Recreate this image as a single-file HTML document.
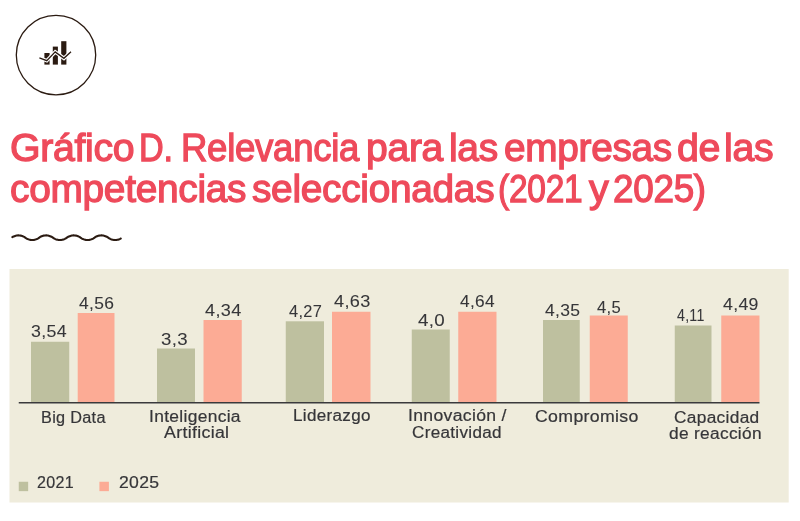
<!DOCTYPE html>
<html lang="es">
<head>
<meta charset="utf-8">
<title>Gráfico D. Relevancia para las empresas de las competencias seleccionadas (2021 y 2025)</title>
<style>
html,body{margin:0;padding:0;background:#fff;}
body{width:800px;height:521px;position:relative;overflow:hidden;font-family:"Liberation Sans",Arial,Helvetica,sans-serif;}
#icon{position:absolute;left:0;top:0;}
#wave{position:absolute;left:0;top:225px;}
h1{margin:0;font-weight:400;}
.t{position:absolute;margin:0;font-weight:400;color:#ee4a5b;-webkit-text-stroke:1.3px #ee4a5b;white-space:pre;transform-origin:0 0;line-height:1;display:block;}
#plot{position:absolute;left:0;top:0;}
.x{position:absolute;color:#363639;-webkit-text-stroke:0.2px #363639;white-space:pre;transform-origin:0 0;line-height:1;}
.x.v{-webkit-text-stroke-width:0.08px;}
</style>
</head>
<body>
<svg id="icon" width="110" height="110" viewBox="0 0 110 110">
  <circle cx="56" cy="55.1" r="39.7" fill="none" stroke="#2b1b12" stroke-width="1.3"/>
  <rect x="44.4" y="53" width="5.2" height="11.6" fill="#2b1b12"/>
  <rect x="52.8" y="46.6" width="5.1" height="18" fill="#2b1b12"/>
  <rect x="61.2" y="41.2" width="5.2" height="23.4" fill="#2b1b12"/>
  <polyline points="39.4,57.9 46.8,60.7 55.2,51.9 63.9,58.3 71,51.8" fill="none" stroke="#fff" stroke-width="3.6"/>
  <polyline points="39.4,57.9 46.8,60.7 55.2,51.9 63.9,58.3 71,51.8" fill="none" stroke="#2b1b12" stroke-width="1.3"/>
</svg>
<h1>
<span class="t" id="t1" style="font-size:39.5px;left:10.00px;top:128.20px;letter-spacing:-0.300px;transform:scaleX(0.9930)">Gráfico</span> 
<span class="t" id="t2" style="font-size:39.5px;left:138.93px;top:128.20px;letter-spacing:-0.300px;transform:scaleX(0.8653)">D.</span> 
<span class="t" id="t3" style="font-size:39.5px;left:180.76px;top:128.20px;letter-spacing:-0.300px;transform:scaleX(0.9255)">Relevancia</span> 
<span class="t" id="t4" style="font-size:39.5px;left:365.94px;top:128.20px;letter-spacing:-0.300px;transform:scaleX(0.9894)">para</span> 
<span class="t" id="t5" style="font-size:39.5px;left:449.17px;top:128.20px;letter-spacing:-0.300px;transform:scaleX(0.9862)">las</span> 
<span class="t" id="t6" style="font-size:39.5px;left:503.64px;top:128.20px;letter-spacing:-0.300px;transform:scaleX(0.9817)">empresas</span> 
<span class="t" id="t7" style="font-size:39.5px;left:676.83px;top:128.20px;letter-spacing:-0.300px;transform:scaleX(0.9959)">de</span> 
<span class="t" id="t8" style="font-size:39.5px;left:724.17px;top:128.20px;letter-spacing:-0.300px;transform:scaleX(0.9930)">las</span> 
<span class="t" id="t9" style="font-size:39.5px;left:10.42px;top:168.80px;letter-spacing:-0.300px;transform:scaleX(0.9836)">competencias</span> 
<span class="t" id="t10" style="font-size:39.5px;left:252.12px;top:168.80px;letter-spacing:-0.300px;transform:scaleX(0.9831)">seleccionadas</span> 
<span class="t" id="t11" style="font-size:39.5px;left:498.45px;top:168.80px;letter-spacing:-0.300px;transform:scaleX(0.8477)">(2021</span> 
<span class="t" id="t12" style="font-size:39.5px;left:588.90px;top:168.80px;letter-spacing:-0.300px;transform:scaleX(1.0000)">y</span> 
<span class="t" id="t13" style="font-size:39.5px;left:612.66px;top:168.80px;letter-spacing:-0.300px;transform:scaleX(0.9328)">2025)</span> 
</h1>
<svg id="wave" width="140" height="25" viewBox="0 225 140 25"><path d="M12.3 237.11L13.0 236.74L13.7 236.42L14.4 236.15L15.1 235.91L15.8 235.72L16.5 235.57L17.2 235.47L17.9 235.41L18.6 235.40L19.3 235.44L20.0 235.52L20.7 235.65L21.4 235.82L22.1 236.03L22.8 236.29L23.5 236.59L24.2 236.93L24.9 237.35L25.6 237.95L26.3 238.38L27.0 238.74L27.7 239.05L28.4 239.32L29.1 239.54L29.8 239.72L30.5 239.86L31.2 239.95L31.9 239.99L32.6 239.99L33.3 239.95L34.0 239.85L34.7 239.71L35.4 239.53L36.1 239.31L36.8 239.04L37.5 238.73L38.2 238.37L38.9 237.93L39.6 237.33L40.3 236.92L41.0 236.58L41.7 236.28L42.4 236.02L43.1 235.81L43.8 235.64L44.5 235.52L45.2 235.44L45.9 235.40L46.6 235.41L47.3 235.47L48.0 235.58L48.7 235.73L49.4 235.92L50.1 236.16L50.8 236.43L51.5 236.76L52.2 237.13L52.9 237.61L53.6 238.18L54.3 238.57L55.0 238.90L55.7 239.19L56.4 239.43L57.1 239.64L57.8 239.79L58.5 239.91L59.2 239.98L59.9 240.00L60.6 239.98L61.3 239.91L62.0 239.79L62.7 239.63L63.4 239.43L64.1 239.18L64.8 238.89L65.5 238.56L66.2 238.17L66.9 237.59L67.6 237.11L68.3 236.74L69.0 236.42L69.7 236.15L70.4 235.91L71.1 235.72L71.8 235.57L72.5 235.47L73.2 235.41L73.9 235.40L74.6 235.44L75.3 235.52L76.0 235.65L76.7 235.82L77.4 236.03L78.1 236.29L78.8 236.59L79.5 236.93L80.2 237.35L80.9 237.95L81.6 238.38L82.3 238.74L83.0 239.05L83.7 239.32L84.4 239.54L85.1 239.72L85.8 239.86L86.5 239.95L87.2 239.99L87.9 239.99L88.6 239.95L89.3 239.85L90.0 239.71L90.7 239.53L91.4 239.31L92.1 239.04L92.8 238.73L93.5 238.37L94.2 237.93L94.9 237.33L95.6 236.92L96.3 236.58L97.0 236.28L97.7 236.02L98.4 235.81L99.1 235.64L99.8 235.52L100.5 235.44L101.2 235.40L101.9 235.41L102.6 235.47L103.3 235.58L104.0 235.73L104.7 235.92L105.4 236.16L106.1 236.43L106.8 236.76L107.5 237.13L108.2 237.61L108.9 238.18L109.6 238.57L110.3 238.90L111.0 239.19L111.7 239.43L112.4 239.64L113.1 239.79L113.8 239.91L114.5 239.98L115.2 240.00L115.9 239.98L116.6 239.91L117.3 239.79L118.0 239.63L118.7 239.43L119.4 239.18L120.1 238.89L120.8 238.56" fill="none" stroke="#2b1b12" stroke-width="2.1" stroke-linecap="round"/></svg>
<svg id="plot" width="800" height="521" viewBox="0 0 800 521">
<rect x="9.5" y="269" width="779.2" height="233.5" fill="#efecdc"/>
<rect x="31" y="341.75" width="38.25" height="60.25" fill="#bec09f"/>
<rect x="77.7" y="313" width="36.8" height="89" fill="#fcab95"/>
<rect x="157" y="348.5" width="38" height="53.5" fill="#bec09f"/>
<rect x="203.5" y="320" width="38.25" height="82" fill="#fcab95"/>
<rect x="285.75" y="321.3" width="38.25" height="80.7" fill="#bec09f"/>
<rect x="332" y="311.75" width="38.5" height="90.25" fill="#fcab95"/>
<rect x="411.75" y="329.5" width="38" height="72.5" fill="#bec09f"/>
<rect x="458.25" y="311.75" width="38.25" height="90.25" fill="#fcab95"/>
<rect x="543" y="320" width="36.75" height="82" fill="#bec09f"/>
<rect x="589.75" y="315.5" width="38" height="86.5" fill="#fcab95"/>
<rect x="674.75" y="325.5" width="36.75" height="76.5" fill="#bec09f"/>
<rect x="721.25" y="315.5" width="38.25" height="86.5" fill="#fcab95"/>
<rect x="18.75" y="402" width="740.75" height="1.5" fill="#3a3a3c"/>
<rect x="18.75" y="481.75" width="9.4" height="9.4" fill="#bec09f"/>
<rect x="99.4" y="481.75" width="9.5" height="9.4" fill="#fcab95"/>
</svg>
<div class="x v" id="v1" style="font-size:16px;left:31.24px;top:324.31px;letter-spacing:0.300px;transform:scaleX(1.1090)">3,54</div>
<div class="x v" id="v2" style="font-size:16px;left:78.84px;top:295.91px;letter-spacing:0.300px;transform:scaleX(1.0869)">4,56</div>
<div class="x v" id="v3" style="font-size:16px;left:161.15px;top:331.61px;letter-spacing:0.300px;transform:scaleX(1.1630)">3,3</div>
<div class="x v" id="v4" style="font-size:16px;left:204.85px;top:302.81px;letter-spacing:0.300px;transform:scaleX(1.1293)">4,34</div>
<div class="x v" id="v5" style="font-size:16px;left:289.01px;top:303.81px;letter-spacing:0.300px;transform:scaleX(1.0226)">4,27</div>
<div class="x v" id="v6" style="font-size:16px;left:333.58px;top:294.11px;letter-spacing:0.300px;transform:scaleX(1.1307)">4,63</div>
<div class="x v" id="v7" style="font-size:16px;left:417.84px;top:312.81px;letter-spacing:0.300px;transform:scaleX(1.1714)">4,0</div>
<div class="x v" id="v8" style="font-size:16px;left:460.39px;top:293.81px;letter-spacing:0.300px;transform:scaleX(1.0794)">4,64</div>
<div class="x v" id="v9" style="font-size:16px;left:545.39px;top:302.81px;letter-spacing:0.300px;transform:scaleX(1.0935)">4,35</div>
<div class="x v" id="v10" style="font-size:16px;left:596.66px;top:299.81px;letter-spacing:0.300px;transform:scaleX(1.0366)">4,5</div>
<div class="x v" id="v11" style="font-size:16px;left:677.21px;top:307.81px;letter-spacing:0.300px;transform:scaleX(0.8852)">4,11</div>
<div class="x v" id="v12" style="font-size:16px;left:723.26px;top:297.31px;letter-spacing:0.300px;transform:scaleX(1.1063)">4,49</div>
<div class="x" id="c1" style="font-size:16px;left:40.55px;top:409.61px;letter-spacing:0.300px;transform:scaleX(1.0156)">Big Data</div>
<div class="x" id="c2" style="font-size:16px;left:148.97px;top:409.01px;letter-spacing:0.300px;transform:scaleX(1.0866)">Inteligencia</div>
<div class="x" id="c3" style="font-size:16px;left:163.67px;top:424.81px;letter-spacing:0.300px;transform:scaleX(1.1080)">Artificial</div>
<div class="x" id="c4" style="font-size:16px;left:292.68px;top:407.51px;letter-spacing:0.300px;transform:scaleX(1.0654)">Liderazgo</div>
<div class="x" id="c5" style="font-size:16px;left:408.10px;top:407.56px;letter-spacing:0.300px;transform:scaleX(1.0992)">Innovación /</div>
<div class="x" id="c6" style="font-size:16px;left:411.66px;top:424.71px;letter-spacing:0.300px;transform:scaleX(1.0663)">Creatividad</div>
<div class="x" id="c7" style="font-size:16px;left:534.64px;top:409.41px;letter-spacing:0.300px;transform:scaleX(1.1068)">Compromiso</div>
<div class="x" id="c8" style="font-size:16px;left:674.25px;top:409.51px;letter-spacing:0.300px;transform:scaleX(1.0800)">Capacidad</div>
<div class="x" id="c9" style="font-size:16px;left:669.41px;top:425.56px;letter-spacing:0.300px;transform:scaleX(1.0800)">de reacción</div>
<div class="x" id="l1" style="font-size:16px;left:36.98px;top:475.31px;letter-spacing:0.300px;transform:scaleX(1.0043)">2021</div>
<div class="x" id="l2" style="font-size:16px;left:118.81px;top:475.31px;letter-spacing:0.300px;transform:scaleX(1.0982)">2025</div>
</body>
</html>
